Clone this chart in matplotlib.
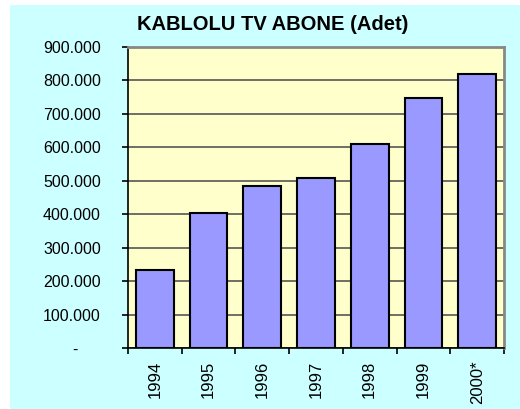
import matplotlib
matplotlib.use('Agg')
import matplotlib.pyplot as plt
from matplotlib.patches import Rectangle
from matplotlib.ticker import FuncFormatter

years = ['1994', '1995', '1996', '1997', '1998', '1999', '2000*']
subscribers = [233000, 404000, 485000, 509000, 609000, 749000, 818000]
yticks = [0, 100000, 200000, 300000, 400000, 500000, 600000, 700000, 800000, 900000]

plt.rcParams['font.family'] = ['Liberation Sans', 'DejaVu Sans']

W, H = 520, 409
fig = plt.figure(figsize=(W / 100, H / 100), dpi=100, facecolor='white')
# cyan chart area with a small white margin at left and top
fig.patches.append(Rectangle((10 / W, 0), 1 - 10 / W, 1 - 5 / H,
                             transform=fig.transFigure, facecolor='#CCFFFF',
                             edgecolor='none', zorder=-10))

left, right, top, bottom = 128, 504, 47, 348
ax = fig.add_axes([left / W, 1 - bottom / H, (right - left) / W, (bottom - top) / H])
ax.set_facecolor('#FFFFCC')

x = list(range(len(years)))
ax.bar(x, subscribers, width=0.7, color='#9999FF', edgecolor='black', linewidth=1.5, zorder=3)

ax.set_xlim(-0.5, len(years) - 0.5)
ax.set_ylim(0, 900000)
ax.set_yticks(yticks)
ax.yaxis.set_major_formatter(FuncFormatter(
    lambda v, p: '-     ' if v == 0 else f'{int(v):,}'.replace(',', '.')))
ax.grid(axis='y', color='#555555', linewidth=1.2, zorder=1)

# category ticks sit between the bars, labels under the bar centres
ax.set_xticks([i - 0.5 for i in range(len(years) + 1)])
ax.set_xticklabels([])
ax.set_xticks(x, minor=True)
ax.set_xticklabels(years, minor=True, rotation=90, fontsize=12)
ax.tick_params(axis='x', which='minor', length=0, pad=9)
ax.tick_params(axis='x', which='major', length=4.5, width=1.2, direction='out')
ax.tick_params(axis='y', length=4.5, width=1.2, labelsize=11.5, pad=15)

for s in ['left', 'bottom']:
    ax.spines[s].set_color('black')
    ax.spines[s].set_linewidth(1.2)
for s in ['top', 'right']:
    ax.spines[s].set_color('#888888')
    ax.spines[s].set_linewidth(2)

fig.text(273 / W, 1 - 24 / H, 'KABLOLU TV ABONE (Adet)', ha='center', va='center',
         fontsize=14.5, fontweight='bold')

fig.savefig('out.png', dpi=100, facecolor=fig.get_facecolor())
